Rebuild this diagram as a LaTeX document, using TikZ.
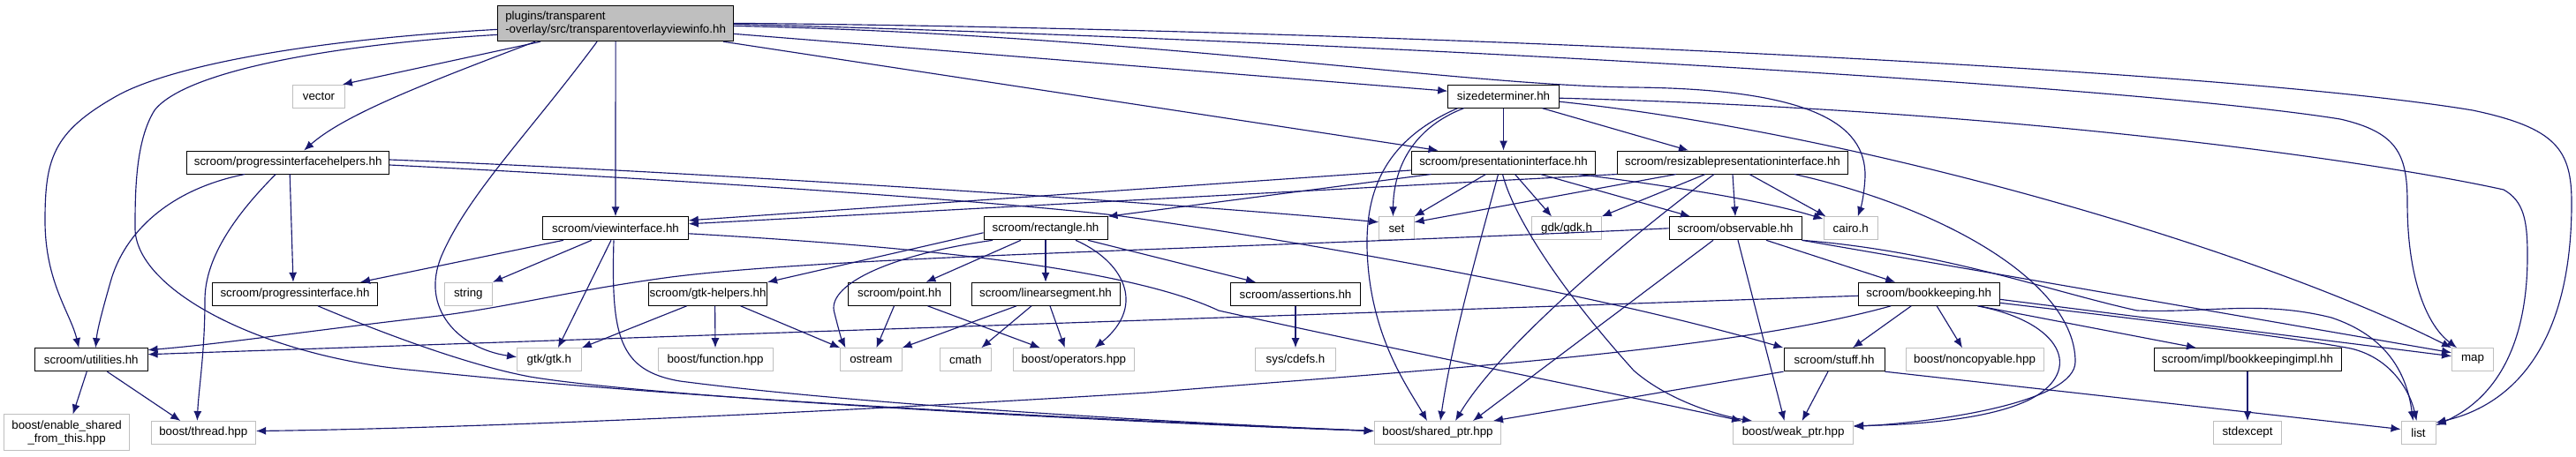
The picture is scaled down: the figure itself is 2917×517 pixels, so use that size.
\documentclass[tikz,border=0pt]{standalone}
\usepackage{fontspec}
\setmainfont{Liberation Sans}
\usetikzlibrary{arrows.meta}
\definecolor{edgec}{HTML}{191970}
\definecolor{grayb}{HTML}{BFBFBF}
\newcommand{\dxfont}{\fontsize{13.33}{15.5}\selectfont}
\begin{document}
\begin{tikzpicture}[x=1pt,y=-1pt,
  box/.style={draw=black, line width=1pt, fill=white, minimum height=26pt, inner sep=0pt, font=\dxfont, text=black},
  sys/.style={box, draw=grayb},
  dep/.style={draw=edgec, line width=1.15pt, -{Latex[length=11pt,width=9pt]}},
]
\useasboundingbox (0,0) rectangle (2917,517);
% row 1
\node[box, fill=grayb, minimum width=266.6pt, minimum height=40.7pt, align=left] (main) at (697.1,26.35) {plugins/transparent\\-overlay/src/transparentoverlayviewinfo.hh};
% row 2
\node[sys, minimum width=58.7pt] (vector) at (361,109.2) {vector};
\node[box, minimum width=125.6pt] (sizedet) at (1702.5,109.2) {sizedeterminer.hh};
% row 3
\node[box, minimum width=229pt] (pih) at (326.2,184) {scroom/progressinterfacehelpers.hh};
\node[box, minimum width=208.6pt] (pres) at (1702.5,184) {scroom/presentationinterface.hh};
\node[box, minimum width=260.7pt] (resiz) at (1962,184) {scroom/resizablepresentationinterface.hh};
% row 4
\node[box, minimum width=164.5pt] (viewi) at (697,258.8) {scroom/viewinterface.hh};
\node[box, minimum width=140pt] (rect) at (1184,258.8) {scroom/rectangle.hh};
\node[sys, minimum width=39.3pt] (set) at (1581.4,258.8) {set};
\node[sys, minimum width=78.5pt] (gdk) at (1774,258.8) {gdk/gdk.h};
\node[box, minimum width=150pt] (observ) at (1965,258.8) {scroom/observable.hh};
\node[sys, minimum width=61.3pt] (cairo) at (2095.7,258.8) {cairo.h};
% row 5
\node[box, minimum width=186.3pt] (pi) at (334,333.3) {scroom/progressinterface.hh};
\node[sys, minimum width=54.2pt] (string) at (530.3,333.3) {string};
\node[box, minimum width=134pt] (gtkh) at (801.6,333.3) {scroom/gtk-helpers.hh};
\node[box, minimum width=115.3pt] (point) at (1018.5,333.3) {scroom/point.hh};
\node[box, minimum width=168pt] (linseg) at (1184,333.3) {scroom/linearsegment.hh};
\node[box, minimum width=146.4pt] (assert) at (1467,333.3) {scroom/assertions.hh};
\node[box, minimum width=159.8pt] (bookk) at (2184.2,333.3) {scroom/bookkeeping.hh};
% row 6
\node[box, minimum width=127.6pt] (util) at (103.3,407.7) {scroom/utilities.hh};
\node[sys, minimum width=72.7pt] (gtk) at (621.9,407.7) {gtk/gtk.h};
\node[sys, minimum width=130pt] (func) at (810,407.7) {boost/function.hpp};
\node[sys, minimum width=69.3pt] (ostream) at (986.4,407.7) {ostream};
\node[sys, minimum width=58.4pt] (cmath) at (1093.3,407.7) {cmath};
\node[sys, minimum width=136.8pt] (oper) at (1215.8,407.7) {boost/operators.hpp};
\node[sys, minimum width=91pt] (cdefs) at (1467,407.7) {sys/cdefs.h};
\node[box, minimum width=114pt] (stuff) at (2077,407.7) {scroom/stuff.hh};
\node[sys, minimum width=156pt] (noncop) at (2236,407.7) {boost/noncopyable.hpp};
\node[box, minimum width=212pt] (bkimpl) at (2545,407.7) {scroom/impl/bookkeepingimpl.hh};
\node[sys, minimum width=47pt] (map) at (2800,407.7) {map};
% row 7
\node[sys, minimum width=142.2pt, minimum height=40.7pt, align=center] (enable) at (75.6,490.3) {boost/enable\_shared\\\_from\_this.hpp};
\node[sys, minimum width=118.5pt] (thread) at (230.3,490.5) {boost/thread.hpp};
\node[sys, minimum width=143.5pt] (shptr) at (1628,490.5) {boost/shared\_ptr.hpp};
\node[sys, minimum width=136pt] (weak) at (2030.6,490.5) {boost/weak\_ptr.hpp};
\node[sys, minimum width=77.7pt] (stdexc) at (2545,490.5) {stdexcept};
\node[sys, minimum width=39pt] (list) at (2738.5,490.5) {list};

% ---- edges from main
\draw[dep] ([yshift=-7pt]main.west) .. controls (350,45) and (190,75) .. (130,110) .. controls (60,150) and (51,180) .. (51,250) .. controls (51,320) and (80,355) .. ([xshift=-14pt]util.north);
\draw[dep] ([yshift=-13pt]main.west) .. controls (380,50) and (210,80) .. (175,125) .. controls (153,160) and (153,220) .. (153,260) .. controls (155,330) and (300,405) .. (472,420) .. controls (800,455) and (1300,478) .. ([yshift=2pt]shptr.west);
\draw[dep] ([xshift=-85pt]main.south) -- ([xshift=-3pt]vector.north east);
\draw[dep] ([xshift=-91pt]main.south) .. controls (480,95) and (390,130) .. ([xshift=18pt]pih.north);
\draw[dep] ([xshift=-21pt]main.south) .. controls (600,150) and (530,220) .. (500,290) .. controls (475,350) and (520,395) .. ([yshift=3pt]gtk.west);
\draw[dep] (main.south) -- (viewi.north);
\draw[dep] ([yshift=-12pt]main.east) -- ([yshift=6pt]sizedet.west);
\draw[dep] ([xshift=122pt]main.south) -- ([xshift=-74pt]pres.north);
\draw[dep] ([yshift=-3pt]main.east) .. controls (1300,40) and (1650,97) .. (1850,99) .. controls (2050,101) and (2113,140) .. (2112,200) .. controls (2111,222) and (2107,236) .. ([xshift=8pt]cairo.north);
\draw[dep] ([yshift=-1pt]main.east) .. controls (1500,45) and (2400,95) .. (2650,135) .. controls (2715,150) and (2726,175) .. (2726,230) .. controls (2726,320) and (2750,370) .. ([xshift=6pt]map.north west);
\draw[dep] (main.east) .. controls (1500,32) and (2500,75) .. (2800,125) .. controls (2895,145) and (2912,170) .. (2912,230) .. controls (2912,420) and (2820,465) .. ([yshift=-2pt]list.north east);

% ---- sizedeterminer
\draw[dep] ([xshift=-45pt]sizedet.south) .. controls (1600,145) and (1578,190) .. ([xshift=-4pt]set.north);
\draw[dep] ([xshift=-52pt]sizedet.south) .. controls (1565,160) and (1547,220) .. (1548,280) .. controls (1550,380) and (1595,440) .. ([xshift=-12pt]shptr.north);
\draw[dep] (sizedet.south) -- (pres.north);
\draw[dep] ([xshift=44pt]sizedet.south) -- ([xshift=-50pt]resiz.north);
\draw[dep] ([yshift=-2pt]sizedet.east) .. controls (2300,125) and (2700,185) .. (2835,215) .. controls (2858,228) and (2862,250) .. (2862,290) .. controls (2862,400) and (2820,455) .. ([yshift=-5pt]list.north east);
\draw[dep] ([yshift=-6pt]sizedet.east) .. controls (2100,150) and (2550,280) .. (map.north west);

% ---- presentationinterface
\draw[dep] ([yshift=-9pt]pres.west) -- ([yshift=9pt]viewi.east);
\draw[dep] ([xshift=-82pt]pres.south) -- (rect.north east);
\draw[dep] ([xshift=-20pt]pres.south) -- (set.north east);
\draw[dep] ([xshift=-6pt]pres.south) .. controls (1680,260) and (1645,380) .. ([xshift=3pt]shptr.north);
\draw[dep] ([xshift=-1pt]pres.south) .. controls (1712,240) and (1760,320) .. (1850,420) .. controls (1890,455) and (1950,472) .. ([xshift=22pt]weak.north west);
\draw[dep] ([xshift=13pt]pres.south) -- ([xshift=-17pt]gdk.north);
\draw[dep] ([xshift=42pt]pres.south) -- ([xshift=-51pt]observ.north);
\draw[dep] ([xshift=85pt]pres.south) .. controls (1900,212) and (2000,228) .. ([yshift=-3pt]cairo.north west);

% ---- resizablepresentationinterface
\draw[dep] (resiz.south west) -- ([yshift=5pt]viewi.east);
\draw[dep] ([xshift=-64pt]resiz.south) -- ([yshift=7pt]set.east);
\draw[dep] ([xshift=-31pt]resiz.south) -- (gdk.north east);
\draw[dep] (resiz.south) -- (observ.north);
\draw[dep] ([xshift=19pt]resiz.south) -- ([xshift=3pt]cairo.north west);
\draw[dep] ([xshift=-21pt]resiz.south) .. controls (1850,265) and (1700,390) .. ([xshift=20pt]shptr.north);
\draw[dep] ([xshift=70pt]resiz.south) .. controls (2200,235) and (2350,320) .. (2350,410) .. controls (2350,455) and (2200,478) .. ([yshift=7pt]weak.east);

% ---- observable
\draw[dep] (observ.west) .. controls (1400,282) and (950,290) .. (760,314) .. controls (640,330) and (570,350) .. (480,360) .. controls (350,375) and (250,390) .. ([yshift=11pt]util.east);
\draw[dep] ([xshift=-25pt]observ.south) -- ([xshift=40pt]shptr.north);
\draw[dep] ([xshift=3pt]observ.south) -- ([xshift=-10pt]weak.north);
\draw[dep] ([xshift=35pt]observ.south) -- ([xshift=-38pt]bookk.north);
\draw[dep] (observ.south east) -- ([yshift=8pt]map.west);
\draw[dep] (observ.south east) .. controls (2200,285) and (2320,330) .. (2420,352) .. controls (2500,355) and (2560,340) .. (2640,360) .. controls (2700,380) and (2725,420) .. ([xshift=-6pt]list.north);

% ---- bookkeeping
\draw[dep] ([yshift=-2pt]bookk.west) -- ([yshift=6pt]util.east);
\draw[dep] ([xshift=-43pt]bookk.south) .. controls (1950,400) and (1600,420) .. (1300,445) .. controls (900,470) and (500,486) .. ([yshift=2pt]thread.east);
\draw[dep] ([xshift=-20pt]bookk.south) -- ([xshift=21pt]stuff.north);
\draw[dep] ([xshift=9pt]bookk.south) -- ([xshift=-14pt]noncop.north);
\draw[dep] ([xshift=56pt]bookk.south) -- ([xshift=-58pt]bkimpl.north);
\draw[dep] ([yshift=-6pt]bookk.east) -- ([yshift=4pt]map.west);
\draw[dep] ([yshift=-10pt]bookk.east) .. controls (2450,365) and (2600,383) .. (2662,395) .. controls (2705,405) and (2728,440) .. ([xshift=-2pt]list.north);
\draw[dep] ([xshift=55pt]bookk.south) .. controls (2335,365) and (2360,420) .. (2300,452) .. controls (2250,478) and (2150,482) .. ([yshift=8pt]weak.east);

% ---- stuff, bookkeepingimpl
\draw[dep] (stuff.south west) -- ([xshift=63pt]shptr.north);
\draw[dep] ([xshift=-7pt]stuff.south) -- ([xshift=10pt]weak.north);
\draw[dep] (stuff.south east) -- ([yshift=4pt]list.west);
\draw[dep] (bkimpl.south) -- (stdexc.north);

% ---- viewinterface
\draw[dep] ([xshift=-59pt]viewi.south) -- ([xshift=74pt]pi.north);
\draw[dep] ([xshift=-27pt]viewi.south) -- (string.north east);
\draw[dep] ([xshift=-5pt]viewi.south) -- ([xshift=10pt]gtk.north);
\draw[dep] ([xshift=-2pt]viewi.south) .. controls (692,380) and (700,420) .. (770,432) .. controls (1000,462) and (1400,482) .. ([yshift=2pt]shptr.west);
\draw[dep] ([yshift=-6pt]viewi.east) .. controls (1050,280) and (1280,305) .. (1380,352) .. controls (1550,390) and (1800,440) .. ([xshift=10pt]weak.north west);

% ---- progressinterface
\draw[dep] ([xshift=26pt]pi.south) .. controls (410,368) and (520,412) .. (600,427) .. controls (750,452) and (1300,480) .. ([yshift=2pt]shptr.west);

% ---- rectangle
\draw[dep] ([yshift=-5pt]rect.west) -- (gtkh.north east);
\draw[dep] ([xshift=-60pt]rect.south) .. controls (1000,290) and (935,325) .. (945,355) .. controls (950,375) and (953,385) .. ([xshift=-29pt]ostream.north);
\draw[dep] ([xshift=-28pt]rect.south) -- ([xshift=30pt]point.north);
\draw[dep] (rect.south) -- (linseg.north);
\draw[dep] ([xshift=48pt]rect.south) -- ([xshift=-45pt]assert.north);
\draw[dep] ([xshift=34pt]rect.south) .. controls (1270,295) and (1300,345) .. ([xshift=24pt]oper.north);

% ---- point, linearsegment, assertions
\draw[dep] ([xshift=-6pt]point.south) -- ([xshift=6pt]ostream.north);
\draw[dep] ([xshift=32pt]point.south) -- ([xshift=-38pt]oper.north);
\draw[dep] ([xshift=-33pt]linseg.south) -- (ostream.north east);
\draw[dep] ([xshift=-16pt]linseg.south) -- ([xshift=18pt]cmath.north);
\draw[dep] ([xshift=5pt]linseg.south) -- ([xshift=-10pt]oper.north);
\draw[dep] (assert.south) -- (cdefs.north);

% ---- gtk-helpers
\draw[dep] ([xshift=-24pt]gtkh.south) -- (gtk.north east);
\draw[dep] ([xshift=8pt]gtkh.south) -- (func.north);
\draw[dep] ([xshift=37pt]gtkh.south) -- (ostream.north west);

% ---- progressinterfacehelpers
\draw[dep] ([xshift=-49pt]pih.south) .. controls (190,215) and (140,265) .. (125,320) .. controls (115,355) and (110,375) .. ([xshift=5pt]util.north);
\draw[dep] ([xshift=-14pt]pih.south) .. controls (270,240) and (232,290) .. (232,340) .. controls (232,400) and (225,440) .. ([xshift=-7pt]thread.north);
\draw[dep] ([xshift=2pt]pih.south) -- ([xshift=-2pt]pi.north);
\draw[dep] ([yshift=3pt]pih.east) .. controls (800,195) and (1350,232) .. ([yshift=7pt]set.west);
\draw[dep] ([yshift=-3pt]pih.east) .. controls (800,205) and (1150,230) .. (1270,245) .. controls (1450,270) and (1800,330) .. (stuff.north west);

% ---- utilities
\draw[dep] ([xshift=-5pt]util.south) -- ([xshift=7pt]enable.north);
\draw[dep] ([xshift=18pt]util.south) -- ([xshift=-26pt]thread.north);
\end{tikzpicture}
\end{document}
